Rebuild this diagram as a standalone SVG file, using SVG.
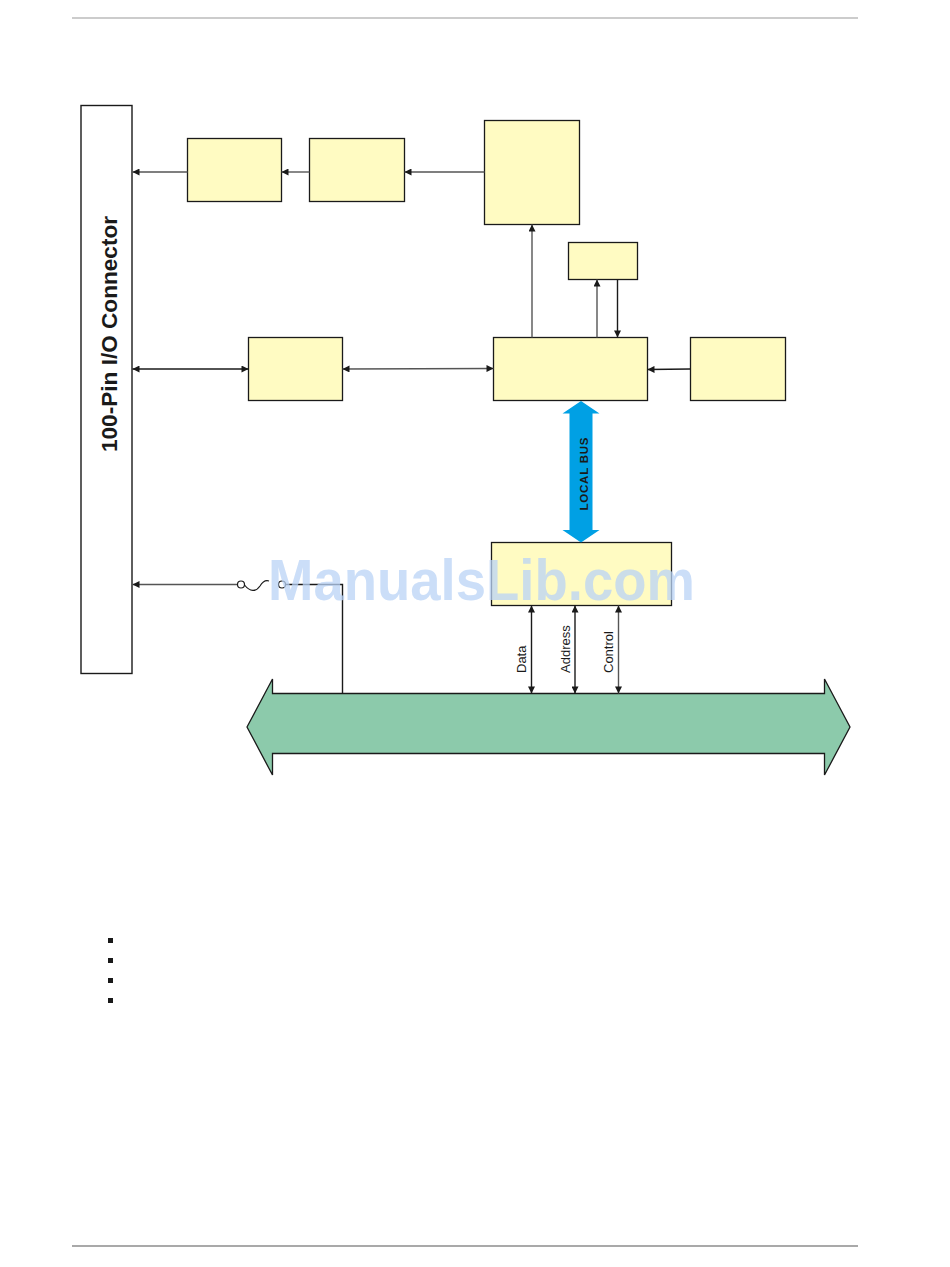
<svg xmlns="http://www.w3.org/2000/svg" width="950" height="1267" viewBox="0 0 950 1267">
<defs>
<style>
.box{fill:#fffbc2;stroke:#1a1a1a;stroke-width:1.3}
.ln{fill:none;stroke:#555;stroke-width:1.4}
.lk{fill:none;stroke:#1a1a1a;stroke-width:1.4}
.lbl{font-family:"Liberation Sans",Arial,sans-serif;font-size:13px;fill:#1a1a1a}
</style>
<marker id="ah" viewBox="0 0 10 10" refX="10" refY="5" markerWidth="8" markerHeight="7" markerUnits="userSpaceOnUse" orient="auto-start-reverse">
<path d="M0,0 L10,5 L0,10 z" fill="#1a1a1a"/>
</marker>
</defs>
<rect width="950" height="1267" fill="#fff"/>
<line x1="72" y1="18" x2="858" y2="18" stroke="#999" stroke-width="1.2"/>
<line x1="72" y1="1246" x2="858" y2="1246" stroke="#555" stroke-width="1.2"/>

<g id="connector">
<rect x="81" y="105.5" width="51" height="568" fill="#fff" stroke="#1a1a1a" stroke-width="1.4"/>
<text transform="translate(117,334) rotate(-90)" text-anchor="middle" font-family="Liberation Sans,Arial,sans-serif" font-weight="bold" font-size="22.6" fill="#1a1a1a">100-Pin I/O Connector</text>
</g>
<g id="boxA"><rect class="box" x="187.5" y="138.5" width="94" height="63"/></g>
<g id="boxB"><rect class="box" x="309.5" y="138.5" width="95" height="63"/></g>
<g id="boxC"><rect class="box" x="484.5" y="120.5" width="95" height="104"/></g>
<g id="boxD"><rect class="box" x="568.5" y="242.5" width="69" height="37"/></g>
<g id="boxE"><rect class="box" x="248.5" y="337.5" width="94" height="63"/></g>
<g id="boxF"><rect class="box" x="493.5" y="337.5" width="154" height="63"/></g>
<g id="boxG"><rect class="box" x="690.5" y="337.5" width="95" height="63"/></g>
<g id="boxH"><rect class="box" x="491.5" y="542.5" width="180" height="63"/></g>

<g id="localbus">
<path d="M581,401 L599.5,413.5 L592.5,413.5 L592.5,530 L599.5,530 L581,542.5 L562.5,530 L569.5,530 L569.5,413.5 L562.5,413.5 z" fill="#00a0e4"/>
<text transform="translate(588,474) rotate(-90)" text-anchor="middle" font-family="Liberation Sans,Arial,sans-serif" font-weight="bold" font-size="11.5" fill="#1a1a1a" textLength="73" lengthAdjust="spacing">LOCAL BUS</text>
</g>

<g id="pcibus">
<path d="M247,727 L272.5,679 L272.5,693.5 L824.5,693.5 L824.5,679 L850,727 L824.5,775 L824.5,753.5 L272.5,753.5 L272.5,775 z" fill="#8ccaab" stroke="#1a1a1a" stroke-width="1.3"/>
</g>

<g id="connectors">
<line class="ln" x1="187.5" y1="172" x2="132.5" y2="172" marker-end="url(#ah)"/>
<line class="ln" x1="309.5" y1="172" x2="281.5" y2="172" marker-end="url(#ah)"/>
<line class="ln" x1="484.5" y1="172" x2="404.5" y2="172" marker-end="url(#ah)"/>
<line class="ln" x1="532" y1="337.5" x2="532" y2="224.5" marker-end="url(#ah)"/>
<line class="ln" x1="597" y1="337.5" x2="597" y2="279.5" marker-end="url(#ah)"/>
<line class="lk" x1="617.5" y1="279.5" x2="617.5" y2="337.5" marker-end="url(#ah)"/>
<line class="lk" x1="132.5" y1="369" x2="248.5" y2="369" marker-start="url(#ah)" marker-end="url(#ah)"/>
<line class="ln" x1="342.5" y1="369" x2="493.5" y2="368.5" marker-start="url(#ah)" marker-end="url(#ah)"/>
<line class="lk" x1="690.5" y1="369" x2="647.5" y2="369.5" marker-end="url(#ah)"/>
<g id="fuse">
<line class="ln" x1="237.5" y1="584.5" x2="132.5" y2="584.5" marker-end="url(#ah)"/>
<circle cx="241" cy="584.5" r="3.5" fill="#fff" stroke="#1a1a1a" stroke-width="1.2"/>
<path d="M244.5,585 C250,592 256,592 260,586 C263,581 266,580 269,581" fill="none" stroke="#1a1a1a" stroke-width="1.2"/>
<circle cx="282" cy="584.5" r="3.5" fill="#fff" stroke="#1a1a1a" stroke-width="1.2"/>
<path class="lk" d="M285.5,584.5 L342.5,584.5 L342.5,693.5"/>
</g>
<line class="lk" x1="531.5" y1="605.5" x2="531.5" y2="693.5" marker-start="url(#ah)" marker-end="url(#ah)"/>
<line class="lk" x1="575" y1="605.5" x2="575" y2="693.5" marker-start="url(#ah)" marker-end="url(#ah)"/>
<line class="ln" x1="618.5" y1="605.5" x2="618.5" y2="693.5" marker-start="url(#ah)" marker-end="url(#ah)"/>
<text class="lbl" transform="translate(526,673) rotate(-90)">Data</text>
<text class="lbl" transform="translate(570,673) rotate(-90)">Address</text>
<text class="lbl" transform="translate(613,673) rotate(-90)">Control</text>
</g>

<g id="bullets" fill="#1a1a1a">
<rect x="108" y="938" width="5" height="5"/>
<rect x="108" y="958" width="5" height="5"/>
<rect x="108" y="978" width="5" height="5"/>
<rect x="108" y="998" width="5" height="5"/>
</g>

<text x="268" y="600" font-family="Liberation Sans,Arial,sans-serif" font-weight="bold" font-size="58" fill="#b9d3f5" fill-opacity="0.75" textLength="427" lengthAdjust="spacingAndGlyphs">ManualsLib.com</text>
</svg>
